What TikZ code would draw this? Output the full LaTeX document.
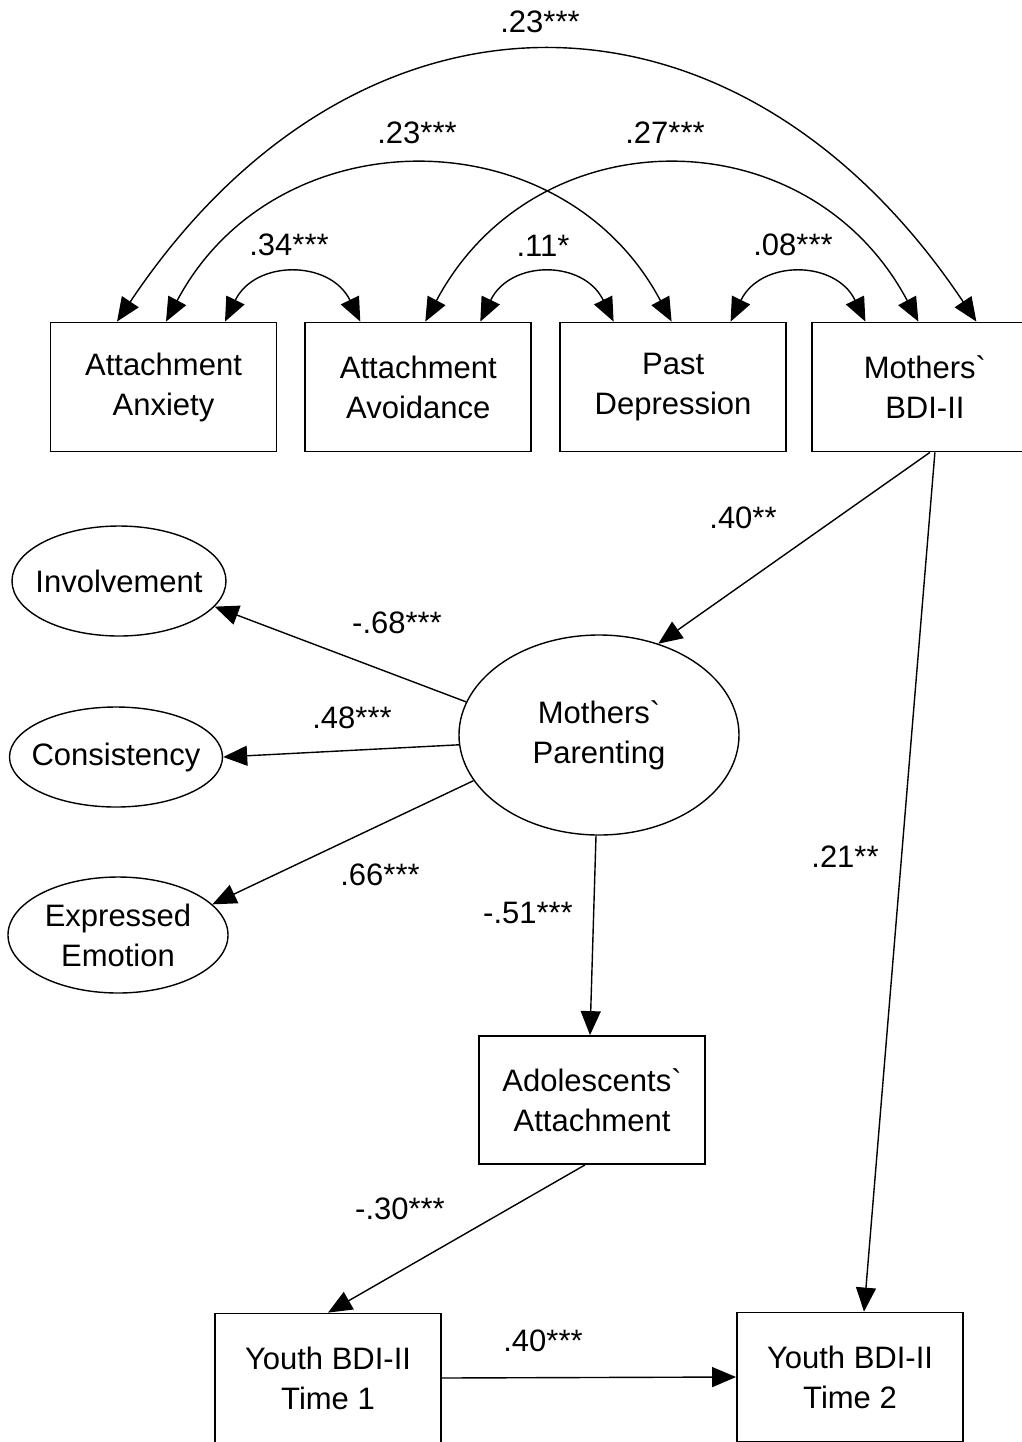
\documentclass[tikz,border=0pt]{standalone}
\usepackage{fontspec}
\setmainfont{Liberation Sans}
\usetikzlibrary{arrows.meta,calc,positioning,shapes.geometric}
\newcommand{\nowidth}[1]{\makebox[0pt]{#1}}

\begin{document}
\begin{tikzpicture}[
  x=0.5pt, y=-0.5pt,
  font=\fontsize{15.5}{20}\selectfont,
  obs/.style={draw, line width=0.9pt, align=center, inner sep=0pt,
              minimum width=113pt, minimum height=64.5pt},
  lat/.style={draw, ellipse, line width=0.7pt, align=center, inner sep=0pt},
  coef/.style={inner sep=1pt},
  arr/.style={-{Triangle[length=12pt, width=10pt]}, line width=0.7pt},
  cov/.style={{Triangle[length=12pt, width=10pt]}-{Triangle[length=12pt, width=10pt]},
              line width=0.7pt}]
\useasboundingbox (0,0) rectangle (1022,1442);
% mothers' measures
\node[obs] (anx) at (163.5,387) {Attachment\\Anxiety};
\node[obs, right=13.5pt of anx] (avo) {Attachment\\Avoidance};
\node[obs, right=13.5pt of avo] (past) {Past\\Depression};
\node[obs, right=12pt of past] (mbdi) {Mothers\textasciigrave\\BDI-II};
% parenting factor
\node[lat, minimum width=140pt, minimum height=100pt] (par) at (599,735)
  {\nowidth{Mothers\textasciigrave}\\\nowidth{Parenting}};
\node[lat, minimum width=107pt, minimum height=55pt] (inv) at (119,581) {\nowidth{Involvement}};
\node[lat, minimum width=106.5pt, minimum height=50pt] (cons) at (116,757) {\nowidth{Consistency}};
\node[lat, minimum width=110pt, minimum height=58pt] (emo) at (118,935)
  {\nowidth{Expressed}\\\nowidth{Emotion}};
% youth
\node[obs, minimum height=64pt] (ado) at (592,1100) {Adolescents\textasciigrave\\Attachment};
\node[obs] (yt1) at (328,1378) {Youth BDI-II\\Time 1};
\node[obs] (yt2) at (850,1377) {Youth BDI-II\\Time 2};
% correlations
\draw[cov] ($(anx.north)+(61.5,0)$) .. controls +(30,-62) and +(-30,-62) .. ($(avo.north)+(-58,0)$);
\draw[cov] ($(avo.north)+(62,0)$) .. controls +(30,-62) and +(-30,-62) .. ($(past.north)+(-59.5,0)$);
\draw[cov] ($(past.north)+(57.5,0)$) .. controls +(30,-62) and +(-30,-62) .. ($(mbdi.north)+(-59.5,0)$);
\draw[cov] ($(anx.north)+(2.5,0)$) .. controls +(110,-207) and +(-110,-207) .. ($(past.north)+(-1.5,0)$);
\draw[cov] ($(avo.north)+(7,0)$) .. controls +(110,-207) and +(-110,-207) .. ($(mbdi.north)+(-6.5,0)$);
\draw[cov] ($(anx.north)+(-46.5,0)$) .. controls +(240,-359) and +(-240,-359) .. ($(mbdi.north)+(51.5,0)$);
\node[coef] (c1) at (540,22) {.23***};
\node[coef] (c2) at (417,133) {.23***};
\node[coef] (c3) at (665,133) {.27***};
\node[coef] (c4) at (289,245) {.34***};
\node[coef] (c5) at (543,246) {.11*};
\node[coef] (c6) at (793,245) {.08***};
% paths
\draw[arr] ([xshift=2.5pt]mbdi.south) -- (par.57);
\draw[arr] ([xshift=5pt]mbdi.south) -- ([xshift=7pt]yt2.north);
\draw[arr] (par.166) -- (inv.-15);
\draw[arr] (par.184) -- (cons.east);
\draw[arr] (par.200) -- (emo.18);
\draw[arr] ([xshift=-1.5pt]par.south) -- ([xshift=-1pt]ado.north);
\draw[arr] ([xshift=-3.5pt]ado.south) -- (yt1.north);
\draw[arr] (yt1.east) -- (yt2.west);
\node[coef] (p1) at (743,518) {.40**};
\node[coef] (p2) at (397,623) {-.68***};
\node[coef] (p3) at (352,718) {.48***};
\node[coef] (p4) at (380,875) {.66***};
\node[coef] (p5) at (528,913) {-.51***};
\node[coef] (p6) at (845,857) {.21**};
\node[coef] (p7) at (400,1209) {-.30***};
\node[coef] (p8) at (543,1341) {.40***};
\end{tikzpicture}
\end{document}
